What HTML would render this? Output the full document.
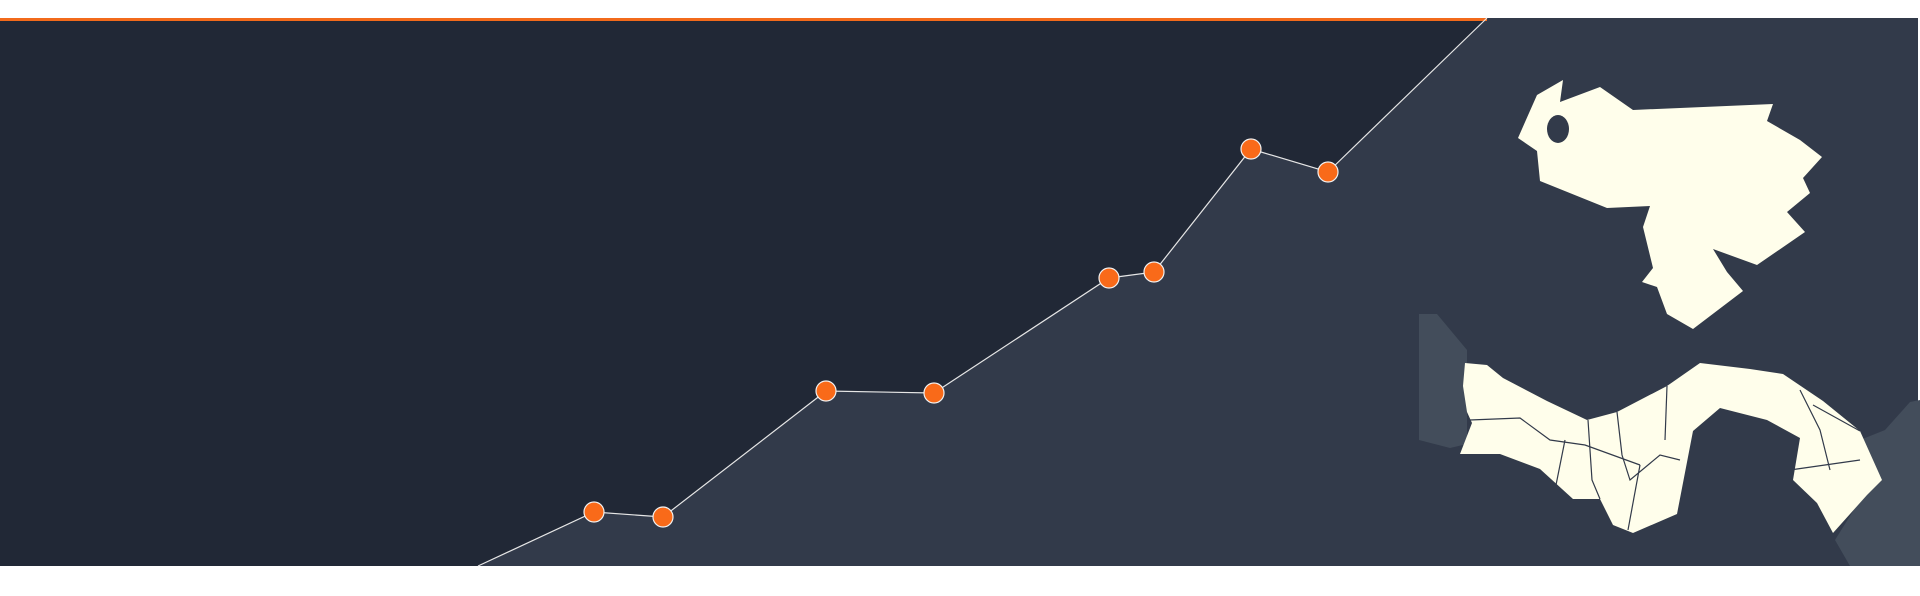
<!DOCTYPE html>
<html><head><meta charset="utf-8"><style>
html,body{margin:0;padding:0;background:#fff;width:1920px;height:596px;overflow:hidden;font-family:"Liberation Sans",sans-serif}
</style></head><body>
<svg width="1920" height="596" viewBox="0 0 1920 596">
<rect x="0" y="18" width="1918" height="548" fill="#323a4a"/>
<g id="area"></g>
<rect x="0" y="18" width="1487" height="3" fill="#f26a1b"/>
<g>
<polygon fill="#434d5b" points="1419,314 1437,314 1467,350 1467,444 1450,448 1419,440"/>
<polygon fill="#434d5b" points="1860,440 1885,430 1910,402 1920,400 1920,566 1850,566 1835,540 1860,500"/>
<polygon fill="#fffeeb" points="1518,138 1537,95 1563,80 1560,102 1600,87 1633,110 1773,104 1767,121 1800,140 1822,157 1803,178 1810,193 1787,212 1805,232 1757,265 1713,249 1727,272 1743,291 1693,329 1667,314 1657,287 1642,282 1653,268 1643,227 1650,206 1607,208 1540,181 1537,151"/>
<ellipse cx="1558" cy="129" rx="11" ry="14" fill="#323a4a"/>
<polygon fill="#fffeeb" points="1465,363 1487,365 1503,378 1547,401 1587,420 1617,412 1667,386 1700,363 1750,369 1783,374 1823,401 1860,431 1882,480 1867,495 1833,533 1817,503 1793,480 1800,438 1767,420 1720,408 1693,431 1677,514 1633,533 1613,525 1600,499 1573,499 1540,469 1500,454 1460,454 1472,423 1467,412 1463,386"/>
<g stroke="#323a4a" stroke-width="1.2" fill="none">
<path d="M1470,420 L1520,418 L1550,440 L1585,445 L1640,465"/>
<path d="M1588,420 L1592,480 L1600,499"/>
<path d="M1617,412 L1622,455 L1630,480 L1660,455 L1680,460"/>
<path d="M1667,386 L1665,440"/>
<path d="M1565,440 L1555,490"/>
<path d="M1640,465 L1628,530"/>
<path d="M1800,390 L1820,430 L1830,470"/>
<path d="M1813,405 L1860,431"/>
<path d="M1790,470 L1860,460"/>
</g>
</g>
<g id="marks"></g>
</svg>
<script>
const xVals = [116, 185, 348, 456, 631, 676, 773, 850];
const yVals = [54, 49, 175, 173, 288, 294, 417, 394];
const xDomain = [0, 1009];
const yDomain = [0, 548];
function xs(v){return 478 + (v - xDomain[0]) / (xDomain[1]-xDomain[0]) * 1009;}
function ys(v){return 566 - (v - yDomain[0]) / (yDomain[1]-yDomain[0]) * 548;}
const NS='http://www.w3.org/2000/svg';
const pts=[[xs(xDomain[0]),ys(yDomain[0])]];
for(let i=0;i<xVals.length;i++)pts.push([xs(xVals[i]),ys(yVals[i])]);
pts.push([xs(xDomain[1]),ys(yDomain[1])]);
const area=document.createElementNS(NS,'polygon');


area.setAttribute('fill','#212836');
area.setAttribute('points','0,18 '+pts.slice().reverse().map(p=>p.join(',')).join(' ')+' 0,566');
document.getElementById('area').appendChild(area);
const marks=document.getElementById('marks');
const line=document.createElementNS(NS,'polyline');


line.setAttribute('points',pts.map(p=>p.join(',')).join(' '));
line.setAttribute('fill','none');
line.setAttribute('stroke','#e6e6e6');
line.setAttribute('stroke-width','1.2');
marks.appendChild(line);
for(let i=0;i<xVals.length;i++){
  const c=document.createElementNS(NS,'circle');
  
  
  c.setAttribute('cx',xs(xVals[i]));
  c.setAttribute('cy',ys(yVals[i]));
  c.setAttribute('r','10');
  c.setAttribute('fill','#f96a19');
  c.setAttribute('stroke','#f0f0f0');
  c.setAttribute('stroke-width','1.2');
  marks.appendChild(c);
}
</script>
</body></html>
